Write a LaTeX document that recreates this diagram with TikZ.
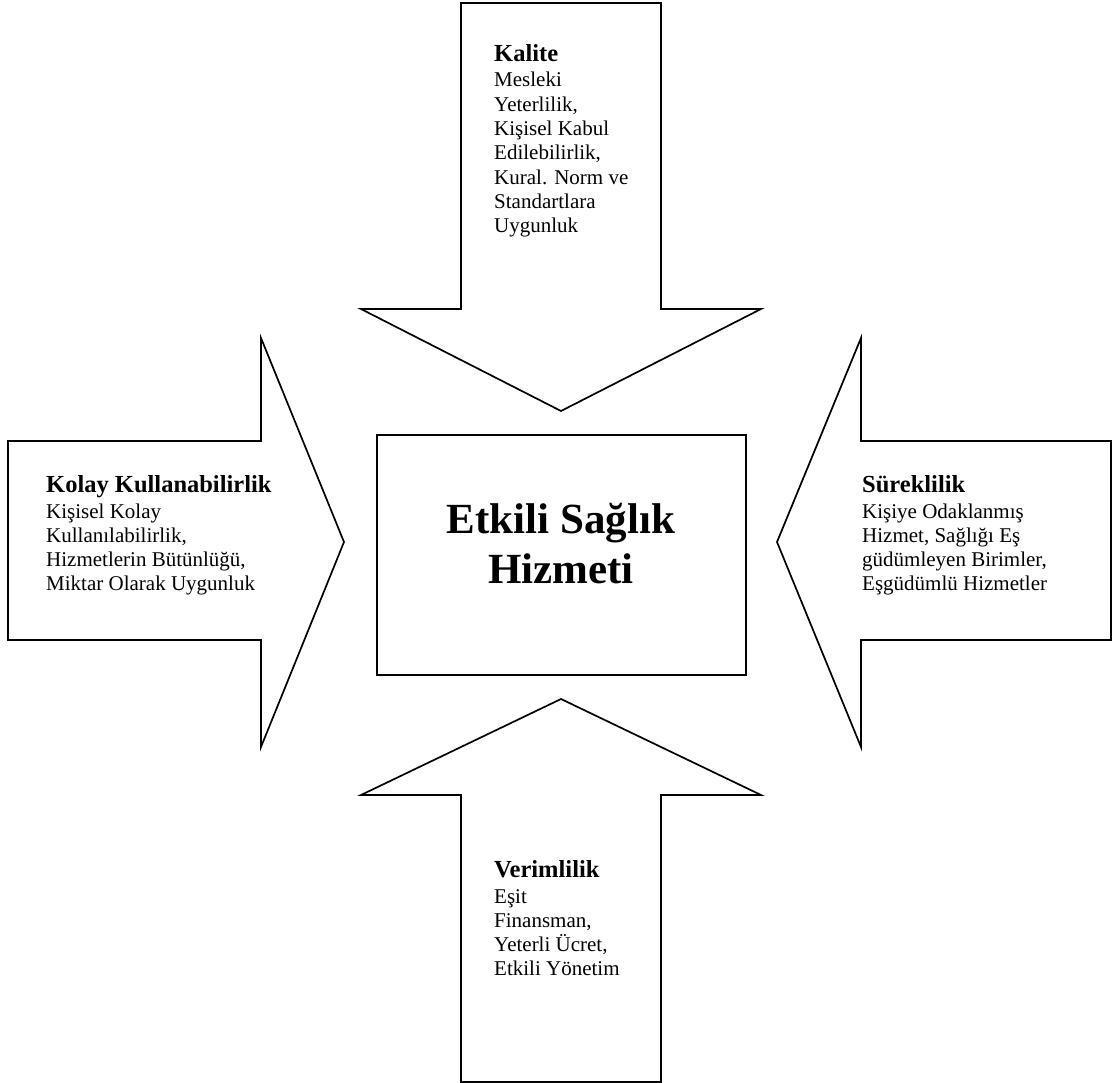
\documentclass[tikz,border=0pt]{standalone}
\usepackage{fontspec}
\setmainfont{Liberation Serif}
\begin{document}
\begin{tikzpicture}[x=1pt,y=-1pt,line join=miter,
  arrowshape/.style={draw=black,line width=1.7pt,fill=white},
  headtxt/.style={anchor=base west,inner sep=0pt,font=\fontsize{24.5}{26}\selectfont\bfseries},
  bodytxt/.style={anchor=base west,inner sep=0pt,font=\fontsize{21}{24.3}\selectfont},
  centretxt/.style={inner sep=0pt,align=center,font=\fontsize{43}{50}\selectfont\bfseries}]
\useasboundingbox (0,0) rectangle (1112,1083);

% arrow pointing down (top)
\draw[arrowshape] (461,3) -- (661,3) -- (661,309) -- (761,309) -- (561,411)
  -- (361,309) -- (461,309) -- cycle;
% arrow pointing right (left)
\draw[arrowshape] (8,441) -- (261,441) -- (261,338) -- (344,542) -- (261,747)
  -- (261,640) -- (8,640) -- cycle;
% arrow pointing left (right)
\draw[arrowshape] (1111,441) -- (861,441) -- (861,338) -- (777,542) -- (861,747)
  -- (861,640) -- (1111,640) -- cycle;
% arrow pointing up (bottom)
\draw[arrowshape] (461,1082) -- (461,795) -- (361,795) -- (561,699) -- (761,795)
  -- (661,795) -- (661,1082) -- cycle;

% central box
\node[draw=black,line width=1.7pt,minimum width=369pt,minimum height=240pt,
  inner sep=0pt] (centre) at (561.5,555) {};
% anchor base sits on the last line's baseline
\node[centretxt,anchor=base] (ctitle) at (561,583)
  {Etkili Sağlık\\Hizmeti};

% Kalite
\node[headtxt] (kh) at (494,62) {Kalite};
\node[bodytxt] (kb) at (494,87) {\parbox[t]{160pt}{\raggedright
  Mesleki\\Yeterlilik,\\Kişisel Kabul\\Edilebilirlik,\\Kural. Norm ve\\Standartlara\\Uygunluk}};

% Kolay Kullanabilirlik
\node[headtxt] (lh) at (46,492) {Kolay Kullanabilirlik};
\node[bodytxt] (lb) at (46,518) {\parbox[t]{230pt}{\raggedright
  Kişisel Kolay\\Kullanılabilirlik,\\Hizmetlerin Bütünlüğü,\\Miktar Olarak Uygunluk}};

% Süreklilik
\node[headtxt] (rh) at (862,493) {Süreklilik};
\node[bodytxt] (rb) at (862,518) {\parbox[t]{240pt}{\raggedright
  Kişiye Odaklanmış\\Hizmet, Sağlığı Eş\\güdümleyen Birimler,\\Eşgüdümlü Hizmetler}};

% Verimlilik
\node[headtxt] (bh) at (494,877) {Verimlilik};
\node[bodytxt] (bb) at (494,903) {\parbox[t]{160pt}{\raggedright
  Eşit\\Finansman,\\Yeterli Ücret,\\Etkili Yönetim}};
\end{tikzpicture}
\end{document}
